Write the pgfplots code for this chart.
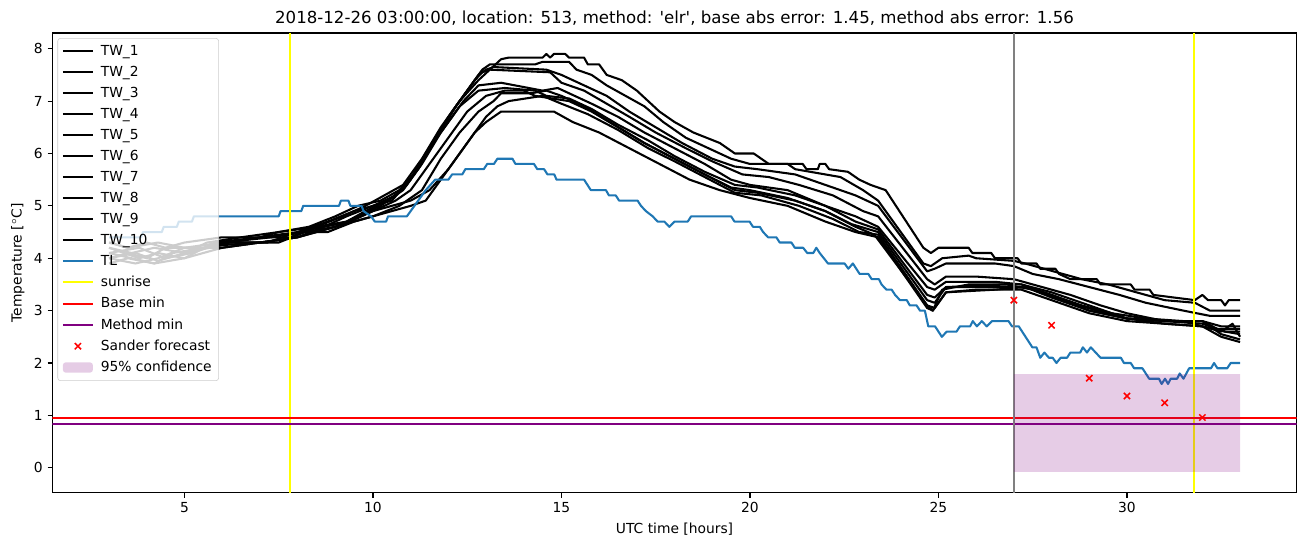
\documentclass[border=0pt]{standalone}
\usepackage{fontspec}
\setmainfont{DejaVu Sans}
\usepackage{pgfplots}
\pgfplotsset{compat=1.18}

\definecolor{tabblue}{RGB}{31,119,180}
\definecolor{mplpurple}{RGB}{128,0,128}
\definecolor{mplyellow}{RGB}{255,255,0}
\definecolor{mplgray}{RGB}{128,128,128}
\definecolor{legendedge}{RGB}{204,204,204}

\pgfplotsset{
  tw/.style={black, line width=1.5pt, line join=round},
  longline/.style={legend image code/.code={\draw[mark repeat=2,mark phase=2,##1] plot coordinates {(0cm,0cm) (0.38cm,0cm) (0.76cm,0cm)};}},
  conflegend/.style={legend image code/.code={\fill[##1] (0cm,-0.13cm) rectangle (0.76cm,0.13cm);}},
}

\begin{document}
\begin{tikzpicture}
\begin{axis}[
    scale only axis,
    width=12.443in, height=4.6in,
    xmin=1.5, xmax=34.5, ymin=-0.48, ymax=8.3,
    xtick={5,10,15,20,25,30}, ytick={0,1,2,3,4,5,6,7,8},
    xtick pos=bottom, ytick pos=left,
    tick align=outside, major tick length=3.5pt,
    every tick/.style={black, line width=0.8pt},
    axis line style={line width=0.8pt},
    /pgf/number format/assume math mode=true,
    tick label style={font=\fontsize{10}{12}\selectfont},
    label style={font=\fontsize{10}{12}\selectfont},
    xlabel={UTC time [hours]},
    ylabel={Temperature [$^\circ$C]},
    title={2018-12-26 03:00:00, location: 513, method: \textquotesingle elr\textquotesingle, base abs error: 1.45, method abs error: 1.56},
    title style={font=\fontsize{12}{14}\selectfont, yshift=-4pt},
    legend cell align=left,
    legend style={at={(0.004,0.989)}, anchor=north west,
      font=\fontsize{10}{12}\selectfont,
      draw=legendedge, rounded corners=2pt, fill=white, fill opacity=0.8, text opacity=1, draw opacity=1,
      row sep=2.3pt, column sep=3pt, inner sep=3pt},
    longline,
]
% TW_1
\addplot[tw] coordinates {(3.0,4.3)(3.5,4.2)(4.0,4.3)(4.5,4.2)(5.0,4.3)(6.0,4.4)(7.0,4.4)(7.5,4.5)(8.5,4.6)(9.2,4.8)(9.8,5.0)(10.3,5.2)(10.8,5.4)(11.3,5.9)(11.8,6.5)(12.3,7.0)(12.8,7.4)(13.1,7.6)(13.4,7.8)(13.6,7.83)(14.5,7.83)(14.6,7.9)(14.7,7.83)(14.8,7.9)(15.1,7.9)(15.2,7.83)(15.6,7.83)(15.7,7.7)(16.0,7.7)(16.2,7.5)(16.6,7.4)(17.0,7.2)(17.3,7.0)(17.6,6.8)(18.0,6.6)(18.5,6.4)(19.2,6.2)(19.6,6.0)(20.1,6.0)(20.5,5.8)(21.4,5.8)(21.5,5.7)(21.8,5.7)(21.85,5.8)(22.0,5.8)(22.1,5.7)(22.6,5.65)(22.9,5.5)(23.2,5.4)(23.6,5.3)(24.6,4.2)(24.8,4.1)(25.0,4.2)(25.8,4.2)(25.9,4.1)(26.4,4.1)(26.5,4.0)(27.1,4.0)(27.2,3.9)(27.6,3.9)(27.7,3.8)(28.1,3.8)(28.2,3.7)(28.5,3.6)(29.2,3.6)(29.3,3.5)(30.1,3.5)(30.2,3.4)(30.6,3.4)(30.7,3.3)(31.8,3.2)(32.0,3.3)(32.15,3.2)(32.5,3.2)(32.6,3.1)(32.7,3.2)(33.0,3.2)};
\addlegendentry{TW\_1}
% TW_2
\addplot[tw] coordinates {(3.0,4.2)(3.6,4.1)(4.2,4.2)(5.0,4.1)(5.6,4.3)(6.5,4.4)(7.5,4.5)(8.3,4.6)(9.0,4.8)(9.6,5.0)(10.2,5.1)(10.7,5.3)(11.2,5.7)(11.7,6.3)(12.2,6.9)(12.6,7.3)(12.9,7.6)(13.1,7.7)(14.3,7.7)(14.5,7.75)(15.2,7.75)(15.4,7.6)(15.8,7.5)(16.2,7.3)(16.7,7.1)(17.2,6.9)(17.7,6.6)(18.3,6.3)(18.9,6.1)(19.5,5.9)(20.0,5.8)(21.0,5.8)(21.2,5.7)(22.0,5.6)(22.4,5.55)(23.0,5.3)(23.4,5.1)(24.6,3.9)(24.8,3.85)(25.1,4.0)(25.8,4.05)(26.0,4.0)(27.0,3.95)(27.3,3.9)(27.8,3.8)(28.3,3.7)(28.8,3.6)(29.5,3.5)(30.0,3.4)(30.5,3.3)(31.0,3.2)(31.8,3.15)(32.2,3.0)(33.0,3.0)};
\addlegendentry{TW\_2}
% TW_3
\addplot[tw] coordinates {(3.0,4.0)(3.5,4.1)(4.0,4.0)(4.5,4.2)(5.5,4.2)(6.2,4.3)(7.0,4.4)(8.0,4.5)(8.8,4.7)(9.5,4.9)(10.0,5.0)(10.6,5.2)(11.1,5.6)(11.6,6.2)(12.1,6.8)(12.5,7.2)(12.8,7.5)(13.0,7.6)(13.2,7.65)(14.6,7.6)(15.0,7.5)(15.6,7.3)(16.2,7.1)(16.8,6.8)(17.5,6.5)(18.2,6.2)(19.0,5.9)(19.6,5.75)(20.2,5.7)(21.2,5.6)(22.0,5.4)(22.8,5.2)(23.4,5.0)(24.7,3.75)(24.9,3.8)(25.2,3.9)(26.5,3.9)(27.0,3.85)(27.5,3.7)(28.2,3.6)(29.0,3.45)(29.8,3.3)(30.5,3.15)(31.5,3.0)(32.2,2.9)(33.0,2.9)};
\addlegendentry{TW\_3}
% TW_4
\addplot[tw] coordinates {(3.0,4.1)(3.6,4.0)(4.2,3.9)(4.7,4.1)(5.5,4.2)(6.0,4.3)(7.2,4.3)(8.0,4.5)(8.7,4.6)(9.3,4.8)(10.0,5.0)(10.5,5.1)(11.0,5.5)(11.5,6.1)(12.0,6.7)(12.4,7.1)(12.7,7.4)(12.9,7.55)(13.1,7.6)(14.7,7.55)(15.0,7.35)(15.6,7.2)(16.2,6.95)(16.8,6.7)(17.5,6.4)(18.3,6.1)(19.0,5.85)(19.8,5.6)(20.5,5.55)(21.3,5.4)(22.2,5.2)(23.0,4.9)(23.4,4.8)(24.7,3.6)(24.9,3.5)(25.2,3.65)(26.0,3.65)(27.0,3.6)(27.5,3.5)(28.5,3.3)(29.3,3.1)(30.0,2.95)(31.0,2.8)(32.0,2.8)(32.5,2.7)(33.0,2.7)};
\addlegendentry{TW\_4}
% TW_5
\addplot[tw] coordinates {(3.0,4.2)(3.8,4.0)(4.3,4.1)(5.0,4.0)(5.8,4.3)(7.0,4.4)(7.8,4.4)(8.5,4.6)(9.3,4.7)(9.8,4.9)(10.4,5.1)(10.9,5.4)(11.4,6.0)(11.9,6.5)(12.4,7.0)(12.8,7.3)(13.4,7.35)(14.5,7.2)(14.9,7.25)(15.2,7.15)(15.8,6.95)(16.5,6.7)(17.2,6.4)(18.0,6.1)(18.8,5.8)(19.5,5.5)(20.0,5.4)(21.0,5.3)(22.0,5.0)(22.8,4.8)(23.4,4.6)(24.7,3.45)(24.9,3.4)(25.2,3.55)(26.5,3.55)(27.2,3.5)(28.0,3.35)(29.0,3.1)(30.0,2.85)(31.0,2.8)(32.0,2.8)(32.4,2.65)(33.0,2.65)};
\addlegendentry{TW\_5}
% TW_6
\addplot[tw] coordinates {(3.0,4.0)(3.7,3.9)(4.3,4.0)(5.0,4.2)(6.0,4.3)(7.3,4.4)(8.2,4.5)(9.0,4.6)(9.6,4.8)(10.2,5.0)(10.8,5.3)(11.3,5.8)(11.8,6.4)(12.3,6.9)(12.8,7.2)(13.5,7.25)(14.3,7.2)(14.6,7.1)(15.2,7.05)(15.8,6.85)(16.5,6.55)(17.3,6.25)(18.0,5.95)(18.8,5.65)(19.6,5.4)(20.2,5.35)(21.2,5.2)(22.0,5.0)(22.8,4.7)(23.4,4.55)(24.7,3.3)(24.9,3.25)(25.2,3.45)(26.5,3.45)(27.3,3.45)(28.0,3.3)(29.0,3.0)(30.0,2.85)(31.0,2.75)(32.0,2.7)(32.6,2.6)(33.0,2.6)};
\addlegendentry{TW\_6}
% TW_7
\addplot[tw] coordinates {(3.0,4.3)(3.5,4.2)(4.3,4.3)(5.0,4.2)(6.0,4.2)(7.0,4.3)(8.0,4.4)(8.7,4.6)(9.4,4.7)(10.0,4.9)(10.6,5.1)(11.0,5.3)(11.5,5.8)(12.0,6.3)(12.5,6.8)(13.0,7.1)(13.5,7.2)(14.0,7.2)(14.3,7.1)(15.2,7.0)(15.8,6.8)(16.5,6.5)(17.2,6.2)(18.0,5.9)(18.8,5.6)(19.5,5.35)(20.0,5.3)(21.0,5.15)(22.0,4.9)(22.7,4.65)(23.4,4.5)(24.7,3.2)(24.9,3.15)(25.2,3.45)(26.8,3.5)(27.5,3.4)(28.3,3.2)(29.2,3.0)(30.0,2.85)(31.0,2.8)(32.0,2.75)(32.6,2.6)(33.0,2.55)};
\addlegendentry{TW\_7}
% TW_8
\addplot[tw] coordinates {(3.0,4.1)(3.8,4.2)(4.5,4.0)(5.2,4.1)(6.0,4.3)(7.5,4.3)(8.2,4.5)(8.8,4.5)(9.5,4.7)(10.0,4.8)(10.7,5.0)(11.3,5.3)(11.8,5.9)(12.3,6.4)(12.8,6.8)(13.2,7.0)(13.4,7.15)(14.2,7.15)(14.6,7.2)(15.0,7.1)(15.6,6.9)(16.4,6.55)(17.2,6.2)(18.0,5.9)(18.8,5.6)(19.6,5.3)(20.2,5.25)(21.2,5.1)(22.0,4.9)(22.8,4.6)(23.3,4.45)(24.7,3.1)(24.85,3.0)(25.1,3.4)(25.8,3.5)(27.2,3.5)(28.0,3.3)(28.8,3.1)(29.6,2.95)(30.5,2.85)(31.5,2.8)(32.0,2.7)(32.5,2.6)(32.8,2.75)(33.0,2.5)};
\addlegendentry{TW\_8}
% TW_9
\addplot[tw] coordinates {(3.0,3.9)(3.5,4.0)(4.2,3.9)(5.0,4.0)(6.0,4.2)(7.0,4.3)(8.0,4.4)(9.0,4.6)(10.0,4.9)(11.0,5.1)(11.5,5.3)(12.0,5.7)(12.5,6.2)(13.0,6.7)(13.3,6.9)(13.6,7.0)(14.5,7.1)(15.0,6.95)(15.7,6.75)(16.5,6.45)(17.3,6.1)(18.0,5.85)(18.8,5.55)(19.6,5.25)(20.3,5.2)(21.3,5.0)(22.2,4.75)(22.9,4.5)(23.4,4.45)(24.7,3.1)(24.9,3.05)(25.2,3.35)(26.5,3.4)(27.3,3.45)(28.0,3.25)(29.0,3.0)(30.0,2.85)(31.0,2.8)(32.0,2.8)(32.5,2.55)(33.0,2.45)};
\addlegendentry{TW\_9}
% TW_10
\addplot[tw] coordinates {(3.0,4.0)(3.7,4.1)(4.3,3.95)(5.0,4.1)(6.0,4.25)(7.0,4.3)(8.0,4.4)(9.0,4.6)(10.0,4.8)(11.0,5.0)(11.4,5.1)(12.0,5.7)(12.7,6.4)(13.0,6.6)(13.4,6.8)(14.8,6.8)(15.3,6.6)(16.0,6.4)(16.8,6.1)(17.6,5.8)(18.4,5.5)(19.2,5.3)(20.0,5.15)(21.0,5.0)(22.0,4.7)(22.8,4.5)(23.4,4.4)(24.7,3.05)(24.85,3.0)(25.2,3.35)(26.0,3.4)(27.2,3.4)(28.0,3.2)(29.0,2.95)(30.0,2.8)(31.0,2.75)(32.0,2.7)(32.5,2.5)(33.0,2.4)};
\addlegendentry{TW\_10}
% TL
\addplot[tabblue, line width=1.5pt, line join=round] coordinates {(3.0,4.4)(3.85,4.4)(3.9,4.5)(4.4,4.5)(4.45,4.6)(4.8,4.6)(4.85,4.7)(5.2,4.7)(5.25,4.8)(7.5,4.8)(7.55,4.9)(8.1,4.9)(8.15,5.0)(9.1,5.0)(9.15,5.1)(9.35,5.1)(9.4,5.0)(9.7,5.0)(9.75,4.9)(9.95,4.8)(10.05,4.7)(10.35,4.7)(10.4,4.8)(10.9,4.8)(11.1,5.0)(11.4,5.3)(11.65,5.5)(12.0,5.5)(12.1,5.6)(12.37,5.6)(12.45,5.7)(12.94,5.7)(13.03,5.8)(13.21,5.8)(13.3,5.9)(13.7,5.9)(13.78,5.8)(14.27,5.8)(14.36,5.7)(14.54,5.7)(14.63,5.6)(14.81,5.6)(14.87,5.5)(15.6,5.5)(15.78,5.3)(16.18,5.3)(16.26,5.2)(16.44,5.2)(16.53,5.1)(17.02,5.1)(17.11,5.0)(17.24,4.9)(17.42,4.8)(17.55,4.7)(17.73,4.7)(17.86,4.6)(18.0,4.7)(18.35,4.7)(18.44,4.8)(19.5,4.8)(19.59,4.7)(19.99,4.7)(20.08,4.6)(20.26,4.6)(20.35,4.5)(20.48,4.4)(20.7,4.4)(20.79,4.3)(21.1,4.3)(21.19,4.2)(21.41,4.2)(21.52,4.1)(21.68,4.1)(21.76,4.2)(21.85,4.1)(22.07,3.9)(22.51,3.9)(22.61,3.8)(22.73,3.9)(22.91,3.7)(23.14,3.7)(23.23,3.6)(23.42,3.6)(23.49,3.5)(23.62,3.4)(23.76,3.4)(23.85,3.3)(23.98,3.2)(24.16,3.2)(24.24,3.1)(24.42,3.1)(24.51,3.0)(24.64,3.0)(24.73,2.7)(24.91,2.7)(25.09,2.5)(25.22,2.6)(25.48,2.6)(25.57,2.7)(25.84,2.7)(25.91,2.8)(26.02,2.7)(26.15,2.8)(26.28,2.7)(26.42,2.8)(26.86,2.8)(26.95,2.7)(27.13,2.7)(27.31,2.5)(27.49,2.3)(27.6,2.3)(27.7,2.1)(27.81,2.2)(27.93,2.1)(28.03,2.1)(28.13,2.0)(28.24,2.1)(28.41,2.1)(28.5,2.2)(28.76,2.2)(28.83,2.3)(28.94,2.2)(29.04,2.3)(29.17,2.2)(29.3,2.1)(29.84,2.1)(29.92,2.0)(30.1,2.0)(30.19,1.9)(30.41,1.9)(30.59,1.7)(30.85,1.7)(30.92,1.6)(31.01,1.7)(31.09,1.6)(31.16,1.7)(31.33,1.7)(31.4,1.8)(31.5,1.7)(31.65,1.9)(32.23,1.9)(32.31,2.0)(32.4,1.9)(32.66,1.9)(32.75,2.0)(33.0,2.0)};
\addlegendentry{TL}
% sunrise
\addplot[mplyellow, line width=1.5pt] coordinates {(7.8,-0.48)(7.8,8.3)};
\addlegendentry{sunrise}
\addplot[mplyellow, line width=1.5pt, forget plot] coordinates {(31.78,-0.48)(31.78,8.3)};
% minima
\addplot[red, line width=1.5pt] coordinates {(1.5,0.95)(34.5,0.95)};
\addlegendentry{Base min}
\addplot[mplpurple, line width=1.5pt] coordinates {(1.5,0.84)(34.5,0.84)};
\addlegendentry{Method min}
% forecast time
\addplot[mplgray, line width=1.5pt, forget plot] coordinates {(27,-0.48)(27,8.3)};
% Sander forecast
\addplot[red, only marks, mark=x, mark size=3.2pt, mark options={line width=1.1pt}] coordinates {(27,3.2)(28,2.72)(29,1.71)(30,1.37)(31,1.24)(32,0.96)};
\addlegendentry{Sander forecast}
% confidence band
\addplot[draw=none, fill=mplpurple, fill opacity=0.2, conflegend]
  coordinates {(27,-0.08)(33,-0.08)(33,1.79)(27,1.79)(27,-0.08)};
\addlegendentry{95\% confidence}
\end{axis}
\pgfresetboundingbox
\path[use as bounding box] (-0.525in,-0.54in) rectangle (12.497in,4.93in);
\end{tikzpicture}
\end{document}
